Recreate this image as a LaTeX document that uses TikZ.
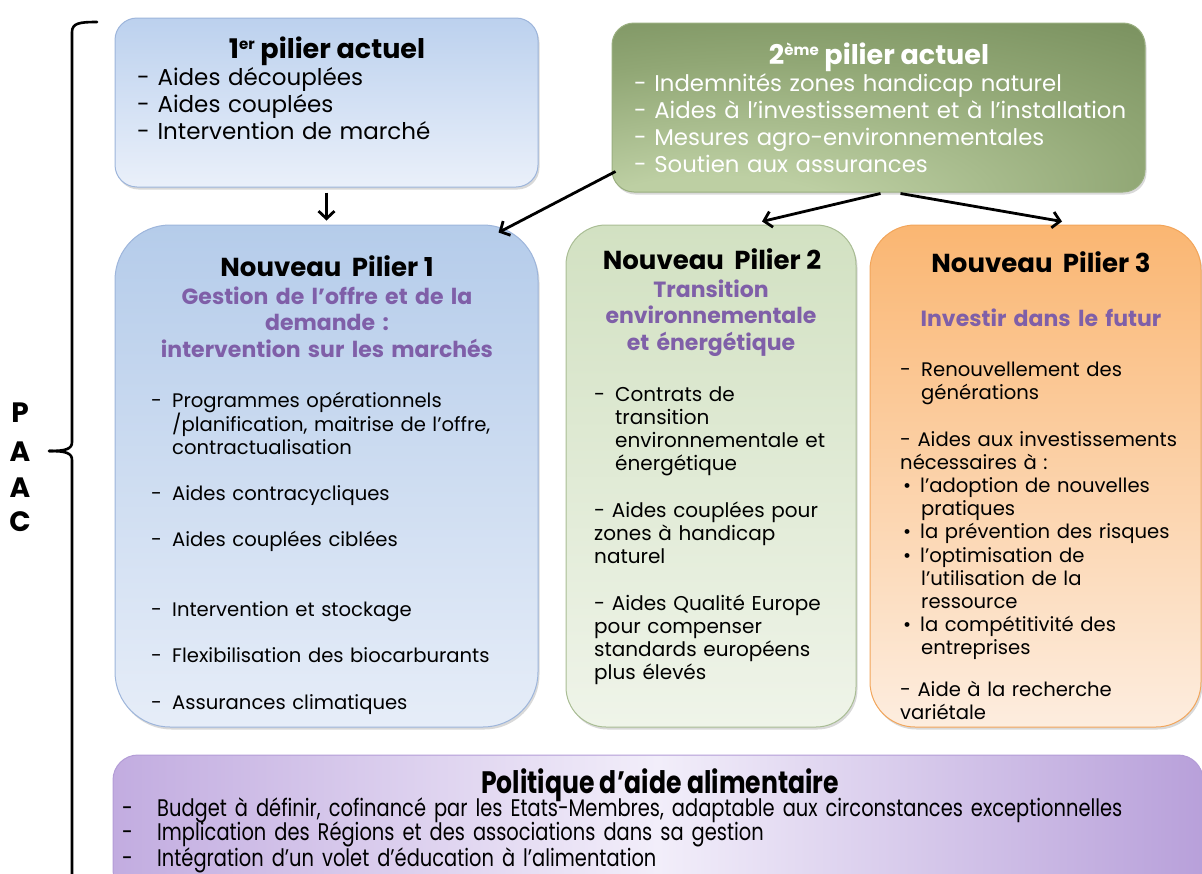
\documentclass[tikz,border=0pt]{standalone}
\usepackage{fontspec}
\setmainfont{Poppins}
\newfontfamily\condfont[FakeStretch=0.81]{Poppins}
\usetikzlibrary{shadows,arrows.meta,calc}
\definecolor{purp}{HTML}{7F5FA8}
\definecolor{bOneTop}{HTML}{BCD1EE}
\definecolor{bOneBot}{HTML}{EAF0FA}
\definecolor{bOneLine}{HTML}{9DB5DB}
\definecolor{bTwoOut}{HTML}{6C8452}
\definecolor{bTwoMid}{HTML}{91A775}
\definecolor{bTwoIn}{HTML}{BDCFA3}
\definecolor{bTwoLine}{HTML}{9AAF80}
\definecolor{nOneTop}{HTML}{B5CCEA}
\definecolor{nOneBot}{HTML}{E6EDF8}
\definecolor{nTwoTop}{HTML}{D2E1C2}
\definecolor{nTwoBot}{HTML}{EFF4E9}
\definecolor{nTwoLine}{HTML}{A9BD94}
\definecolor{nThrTop}{HTML}{FAB672}
\definecolor{nThrBot}{HTML}{FDEDDF}
\definecolor{nThrLine}{HTML}{F2A55A}
\definecolor{botSide}{HTML}{C2ACE0}
\definecolor{botRight}{HTML}{B8A0DA}
\definecolor{botMid}{HTML}{F2EEFA}
\definecolor{botLine}{HTML}{B39CD6}
\pgfdeclareradialshading{greenglow}{\pgfpoint{-18bp}{-38bp}}{%
  color(0bp)=(bTwoIn); color(12bp)=(bTwoIn); color(35bp)=(bTwoMid); color(60bp)=(bTwoOut); color(80bp)=(bTwoOut)}
\tikzset{
  box/.style={draw, line width=1pt, inner sep=0pt,
    drop shadow={opacity=0.3, shadow xshift=1.5pt, shadow yshift=-2.5pt}},
  boxone/.style={box, draw=bOneLine, rounded corners=22pt, top color=bOneTop, bottom color=bOneBot},
  boxtwo/.style={box, draw=bTwoLine, rounded corners=22pt, shading=greenglow},
  pilone/.style={box, draw=bOneLine, rounded corners=55pt, top color=nOneTop, bottom color=nOneBot},
  piltwo/.style={box, draw=nTwoLine, rounded corners=40pt, top color=nTwoTop, bottom color=nTwoBot},
  pilthr/.style={box, draw=nThrLine, rounded corners=45pt, top color=nThrTop, bottom color=nThrBot},
  boxfood/.style={box, draw=botLine, rounded corners=25pt, left color=botSide, right color=botRight, middle color=botMid},
  ttl/.style={anchor=base, inner sep=0pt, font=\bfseries\fontsize{27}{30}\selectfont},
  ptl/.style={anchor=base, inner sep=0pt, font=\bfseries\fontsize{26}{30}\selectfont},
  sub/.style={anchor=base, inner sep=0pt, align=center, text width=380pt, text=purp, font=\bfseries\fontsize{22}{26.7}\selectfont},
  lst/.style={anchor=base west, inner sep=0pt, align=left, text width=520pt, font=\fontsize{23}{27}\selectfont},
  sml/.style={anchor=base west, inner sep=0pt, align=left, text width=360pt, font=\fontsize{19.6}{23.2}\selectfont},
  arr/.style={line width=2.8pt, -{Straight Barb[length=7.5pt,width=16pt,line width=2.8pt]}},
  letter/.style={anchor=base, inner sep=0pt, font=\bfseries\fontsize{28}{30}\selectfont}
}
\newcommand{\dsh}{\makebox[21pt][l]{-}}
\newcommand{\ind}{\hspace*{21pt}}
\newcommand{\bul}{\makebox[20pt][l]{\hspace*{3pt}\textbullet}}
\newcommand{\supr}[1]{\raisebox{9pt}{\fontsize{15}{15}\selectfont #1}}
\newcommand{\tightlines}{\lineskiplimit=-30pt\relax\lineskip=0pt\relax}
\begin{document}
\begin{tikzpicture}[x=1pt,y=-1pt]
\useasboundingbox (0,0) rectangle (1202,873);
% boxes
\node[boxone, minimum width=423pt, minimum height=169pt] (b1) at (326.5,102.5) {};
\node[boxtwo, minimum width=533pt, minimum height=169pt] (b2) at (878.5,107.5) {};
\node[pilone, minimum width=423pt, minimum height=502pt] (np1) at (326.5,476) {};
\node[piltwo, minimum width=290pt, minimum height=502pt] (np2) at (711,476) {};
\node[pilthr, minimum width=331pt, minimum height=502pt] (np3) at (1035.5,476) {};
\node[boxfood, minimum width=1090pt, minimum height=140pt] (food) at (658,825) {};
% bracket
\draw[line width=2.6pt, line cap=round] (97,22) .. controls (80,22) and (72,23) .. (72,32) -- (72,442)
  .. controls (72,449) and (66,451) .. (49,451);
\draw[line width=2.6pt] (49,451) .. controls (66,451) and (72,453) .. (72,460) -- (72,880);
\node[letter] (lp) at (20,422) {P};
\node[letter] (la1) at (20,461) {A};
\node[letter] (la2) at (20,497) {A};
\node[letter] (lc) at (20,531) {C};
% box 1
\node[ttl] (t1) at (327,58) {1\supr{er} pilier actuel};
\node[lst] (l1) at (137,85) {- Aides découplées\\- Aides couplées\\- Intervention de marché};
% box 2
\node[ttl, text=white] (t2) at (879,64) {2\supr{ème} pilier actuel};
\node[lst, text=white, font=\fontsize{22.8}{27}\selectfont] (l2) at (634,91) {- Indemnités zones handicap naturel\\- Aides à l’investissement et à l’installation\\- Mesures agro-environnementales\\- Soutien aux assurances};
% pillar 1
\node[ptl] (p1) at (327,276) {Nouveau\hspace{0.4em}Pilier 1};
\node[sub] (s1) at (327,304) {Gestion de l’offre et de la\\demande :\\intervention sur les marchés};
\node[sml] (i1a) at (151,407) {\dsh Programmes opérationnels\\\ind/planification, maitrise de l’offre,\\\ind contractualisation};
\node[sml] (i1b) at (151,500) {\dsh Aides contracycliques};
\node[sml] (i1c) at (151,546) {\dsh Aides couplées ciblées};
\node[sml] (i1d) at (151,616) {\dsh Intervention et stockage};
\node[sml] (i1e) at (151,662) {\dsh Flexibilisation des biocarburants};
\node[sml] (i1f) at (151,709) {\dsh Assurances climatiques};
% pillar 2
\node[ptl] (p2) at (712,269) {Nouveau\hspace{0.4em}Pilier 2};
\node[sub, text width=280pt] (s2) at (711,297) {Transition\\environnementale\\et énergétique};
\node[sml, font=\fontsize{20}{23.2}\selectfont] (i2a) at (594,401) {\dsh Contrats de\\\ind transition\\\ind environnementale et\\\ind énergétique};
\node[sml, font=\fontsize{20}{23.2}\selectfont] (i2b) at (594,517) {- Aides couplées pour\\zones à handicap\\naturel};
\node[sml, font=\fontsize{20}{23.2}\selectfont] (i2c) at (594,610) {- Aides Qualité Europe\\pour compenser\\standards européens\\plus élevés};
% pillar 3
\node[ptl] (p3) at (1041,272) {Nouveau\hspace{0.4em}Pilier 3};
\node[sub, text width=300pt] (s3) at (1041,326) {Investir dans le futur};
\node[sml] (i3a) at (900,376) {\dsh Renouvellement des\\\ind générations};
\node[sml] (i3b) at (900,446) {- Aides aux investissements\\nécessaires à :\\\bul l’adoption de nouvelles\\\ind pratiques\\\bul la prévention des risques\\\bul l’optimisation de\\\ind l’utilisation de la\\\ind ressource\\\bul la compétitivité des\\\ind entreprises};
\node[sml] (i3c) at (900,696) {- Aide à la recherche\\variétale};
% food policy
\node[ttl, font=\condfont\bfseries\fontsize{31}{34}\selectfont] (tf) at (660,793) {Politique d’aide alimentaire};
\node[lst, text width=1050pt, font=\condfont\fontsize{24}{24}\selectfont] (lf) at (122,816.5) {\tightlines\makebox[35pt][l]{-}Budget à définir, cofinancé par les Etats-Membres, adaptable aux circonstances exceptionnelles\\\makebox[35pt][l]{-}Implication des Régions et des associations dans sa gestion\\\makebox[35pt][l]{-}Intégration d’un volet d’éducation à l’alimentation};
% arrows
\draw[arr] ($(b1.south)+(0,5)$) -- ($(np1.north)+(0,-4)$);
\draw[arr] ($(b2.south west)+(4,-21)$) -- ($(np1.north east)+(-40,8)$);
\draw[arr] ($(b2.south)+(2,1)$) -- ($(np2.north)+(51,-3)$);
\draw[arr] ($(b2.south)+(22,1)$) -- ($(np3.north)+(26.5,-3)$);
\end{tikzpicture}
\end{document}
